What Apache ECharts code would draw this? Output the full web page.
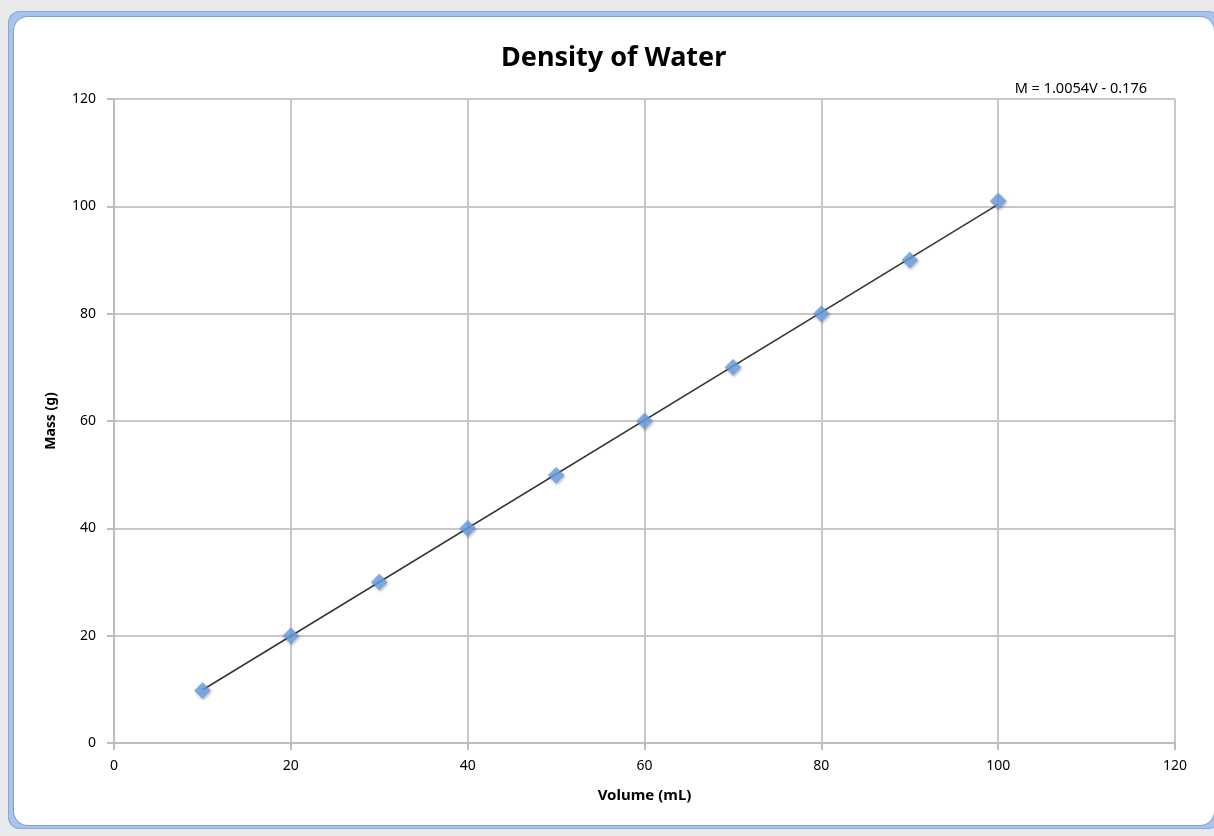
<!DOCTYPE html>
<html>
<head>
<meta charset="utf-8">
<script src="https://cdn.jsdelivr.net/npm/echarts@6/dist/echarts.min.js"></script>
<style>
html,body{margin:0;padding:0;background:#e9e9e9;width:1214px;height:836px;overflow:hidden;}
#frame{position:absolute;left:8px;top:11px;width:1212px;height:818px;background:#a8c3ec;border-radius:12px;box-shadow:inset 0 0 0 1px #86a8dc;}
#chart{position:absolute;left:0;top:0;width:1214px;height:836px;}
#inner{position:absolute;left:14px;top:17px;width:1200px;height:808px;background:#fff;border-radius:14px;box-shadow:0 0 0 1px #7e9fd4;}
</style>
</head>
<body>
<div id="frame"></div>
<div id="inner"></div>
<div id="chart"></div>
<script>
const volumes = [10, 20, 30, 40, 50, 60, 70, 80, 90, 100];
const masses  = [9.8, 20.0, 30.0, 40.0, 49.9, 60.0, 70.0, 80.0, 90.0, 101.0];
const trendCoef = [1.0054, -0.176]; // slope, intercept
const xTicks = [0, 20, 40, 60, 80, 100, 120];
const yTicks = [0, 20, 40, 60, 80, 100, 120];

const points = volumes.map((v, i) => [v, masses[i]]);
const xMinData = Math.min(...volumes), xMaxData = Math.max(...volumes);
const trend = [xMinData, xMaxData].map(v => [v, trendCoef[0] * v + trendCoef[1]]);
const eqText = 'M = ' + trendCoef[0] + 'V - ' + Math.abs(trendCoef[1]);

const font = '"Noto Sans", "Open Sans", sans-serif';
const chart = echarts.init(document.getElementById('chart'), null, {renderer: 'canvas'});
chart.setOption({
  backgroundColor: 'transparent',
  animation: false,
  title: [
    {text: 'Density of Water', left: 496, top: 40,
     textStyle: {fontFamily: font, fontSize: 27, fontWeight: 'bold', color: '#000'}},
    {text: eqText, right: 62, top: 76,
     textStyle: {fontFamily: font, fontSize: 14.5, fontWeight: 'normal', color: '#000'}}
  ],
  grid: {left: 114, right: 39, top: 99, bottom: 93, containLabel: false},
  xAxis: {
    type: 'value', min: xTicks[0], max: xTicks[xTicks.length - 1], interval: xTicks[1] - xTicks[0],
    name: 'Volume (mL)', nameLocation: 'middle', nameGap: 45,
    nameTextStyle: {fontFamily: font, fontSize: 15, fontWeight: 'bold', color: '#000'},
    axisLine: {show: true, lineStyle: {color: '#bdbdbd', width: 2}},
    axisTick: {show: true, length: 7, lineStyle: {color: '#bdbdbd', width: 2}},
    axisLabel: {fontFamily: font, fontSize: 14, color: '#000', margin: 16},
    splitLine: {show: true, lineStyle: {color: '#c8c8c8', width: 2}}
  },
  yAxis: {
    type: 'value', min: yTicks[0], max: yTicks[yTicks.length - 1], interval: yTicks[1] - yTicks[0],
    name: 'Mass (g)', nameLocation: 'middle', nameGap: 56, nameRotate: 90,
    nameTextStyle: {fontFamily: font, fontSize: 14, fontWeight: 'bold', color: '#000'},
    axisLine: {show: true, lineStyle: {color: '#bdbdbd', width: 2}},
    axisTick: {show: true, length: 7, lineStyle: {color: '#bdbdbd', width: 2}},
    axisLabel: {fontFamily: font, fontSize: 14, color: '#000', margin: 18},
    splitLine: {show: true, lineStyle: {color: '#c8c8c8', width: 2}}
  },
  series: [
    {
      type: 'line', data: trend, showSymbol: false, symbol: 'none',
      lineStyle: {color: '#333', width: 1.5}, z: 2, silent: true
    },
    {
      type: 'scatter', data: points,
      symbol: 'path://M0,-1L1,0L0,1L-1,0Z', symbolSize: 16,
      itemStyle: {color: '#6ca3e8', borderColor: '#5b8fd6', borderWidth: 0.5,
                  shadowColor: 'rgba(0,0,0,0.35)', shadowBlur: 3, shadowOffsetX: 1, shadowOffsetY: 1.5},
      z: 3
    }
  ]
});
</script>
</body>
</html>
